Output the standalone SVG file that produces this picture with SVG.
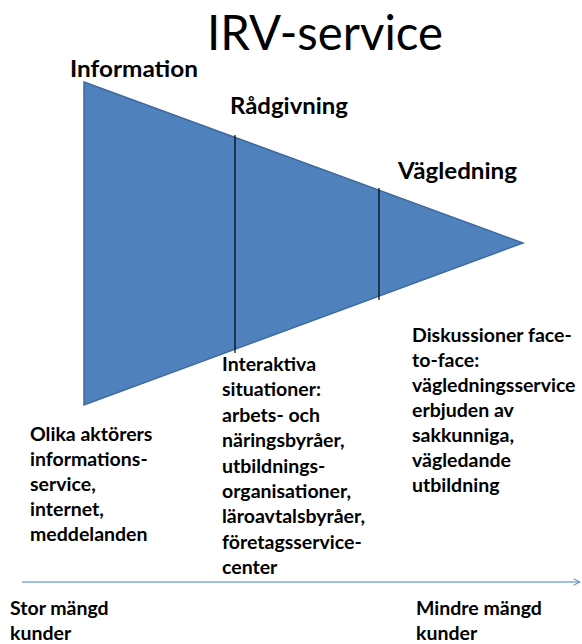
<svg xmlns="http://www.w3.org/2000/svg" width="582" height="644" viewBox="0 0 582 644">
  <style>
    .title { font-family: "Lato", "Liberation Sans", Arial, sans-serif; font-size: 48px; fill: #000; }
    .head { font-family: "Lato", "Liberation Sans", Arial, sans-serif; font-weight: bold; font-size: 23px; fill: #000; }
    .body { font-family: "Lato", "Liberation Sans", Arial, sans-serif; font-weight: bold; font-size: 19.5px; fill: #000; }
    .funnel { fill: #4F81BD; stroke: #3F6A9E; stroke-width: 1.5; }
    .divider { stroke: #000; stroke-width: 1.2; }
    .axis { stroke: #4A7EBB; stroke-width: 1.2; fill: none; }
  </style>
  <defs>
    <marker id="open-arrow" viewBox="0 0 10 10" refX="9" refY="5" markerWidth="8" markerHeight="8" markerUnits="userSpaceOnUse" orient="auto">
      <path d="M1,1 L9,5 L1,9" fill="none" stroke="#4A7EBB" stroke-width="1.2"/>
    </marker>
  </defs>
  <rect width="582" height="644" fill="#fff"/>

  <text class="title" x="207" y="50" textLength="236" lengthAdjust="spacingAndGlyphs">IRV-service</text>

  <g id="funnel">
    <polygon class="funnel" points="84,82 523,243 84,405"/>
  </g>

  <g id="connectors">
    <line class="divider" x1="235" y1="135" x2="235" y2="353"/>
    <line class="divider" x1="379" y1="188" x2="379" y2="300"/>
    <line class="axis" x1="22" y1="582" x2="580" y2="582" marker-end="url(#open-arrow)"/>
  </g>

  <g id="information">
    <text class="head" x="70" y="77" textLength="128" lengthAdjust="spacingAndGlyphs">Information</text>
    <text class="body" x="30" y="441">
      <tspan x="30" dy="0">Olika aktörers</tspan>
      <tspan x="30" dy="25">informations-</tspan>
      <tspan x="30" dy="25">service,</tspan>
      <tspan x="30" dy="25">internet,</tspan>
      <tspan x="30" dy="25">meddelanden</tspan>
    </text>
  </g>

  <g id="radgivning">
    <text class="head" x="230" y="114" textLength="118" lengthAdjust="spacingAndGlyphs">Rådgivning</text>
    <text class="body" x="222" y="371">
      <tspan x="222" dy="0">Interaktiva</tspan>
      <tspan x="222" dy="25.4">situationer:</tspan>
      <tspan x="222" dy="25.4">arbets- och</tspan>
      <tspan x="222" dy="25.4">näringsbyråer,</tspan>
      <tspan x="222" dy="25.4">utbildnings-</tspan>
      <tspan x="222" dy="25.4">organisationer,</tspan>
      <tspan x="222" dy="25.4">läroavtalsbyråer,</tspan>
      <tspan x="222" dy="25.4">företagsservice-</tspan>
      <tspan x="222" dy="25.4">center</tspan>
    </text>
  </g>

  <g id="vagledning">
    <text class="head" x="398" y="179" textLength="119" lengthAdjust="spacingAndGlyphs">Vägledning</text>
    <text class="body" x="412" y="342">
      <tspan x="412" dy="0">Diskussioner face-</tspan>
      <tspan x="412" dy="25">to-face:</tspan>
      <tspan x="412" dy="25">vägledningsservice</tspan>
      <tspan x="412" dy="25">erbjuden av</tspan>
      <tspan x="412" dy="25">sakkunniga,</tspan>
      <tspan x="412" dy="25">vägledande</tspan>
      <tspan x="412" dy="25">utbildning</tspan>
    </text>
  </g>

  <g id="many-customers">
    <text class="body" x="10" y="615">
      <tspan x="10" dy="0">Stor mängd</tspan>
      <tspan x="10" dy="25">kunder</tspan>
    </text>
  </g>

  <g id="fewer-customers">
    <text class="body" x="416" y="615">
      <tspan x="416" dy="0">Mindre mängd</tspan>
      <tspan x="416" dy="25">kunder</tspan>
    </text>
  </g>
</svg>
